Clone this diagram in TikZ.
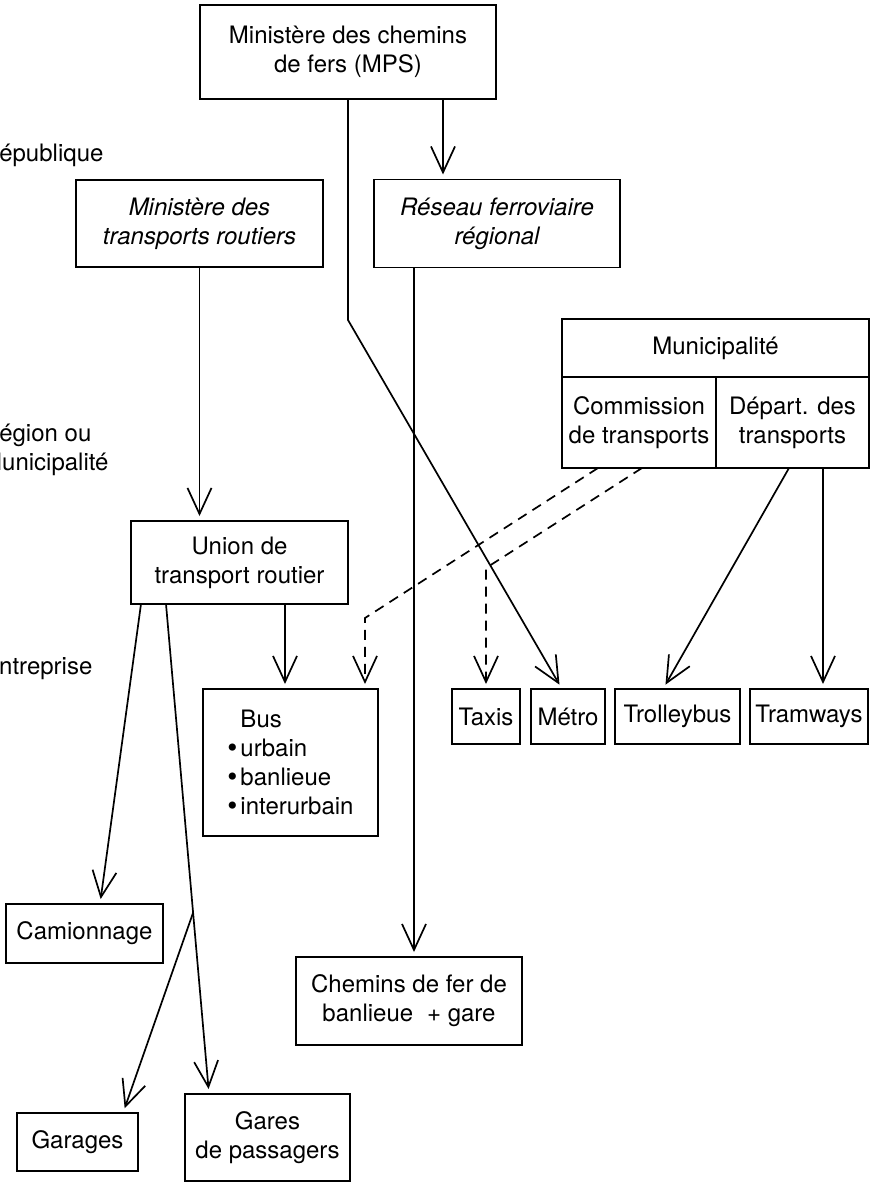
\documentclass[tikz,border=0pt]{standalone}
\usepackage{fontspec}
\setmainfont{TeX Gyre Heros}
\usetikzlibrary{positioning,calc,arrows.meta}

\newcommand{\diagfont}{\fontsize{24pt}{29pt}\selectfont}
\newcommand{\bul}{\makebox[13pt][l]{\raisebox{-0.5pt}{\scalebox{1.2}{•}}}}

\begin{document}
\begin{tikzpicture}[
    x=1pt, y=-1pt,
    every node/.style={font=\diagfont},
    box/.style={rectangle, draw=black, line width=1.9pt, inner sep=2pt, outer sep=0pt, align=center},
    rowbox/.style={box, minimum height=55pt},
    level/.style={inner sep=0pt, anchor=west, align=left},
    arrow/.style={-{Straight Barb[length=26pt, width=24pt]}, line width=1.7pt, shorten >=5pt},
    dashline/.style={arrow, dash pattern=on 10pt off 7pt}
]
\useasboundingbox (0,0) rectangle (878,1183);

% === LEVELS ===
\node[level] (repub) at (-18,155) {République};
\node[level] (region) at (-18,450) {Région ou\\Municipalité};
\node[level] (entre) at (-17,668) {Entreprise};

% === MINISTRIES ===
\node[box, minimum width=296pt, minimum height=94pt] (mps) at (348,52) {Ministère des chemins\\de fers (MPS)};
\node[box, minimum width=247pt, minimum height=87pt, font=\diagfont\itshape] (routiers) at (199.5,223.5) {Ministère des\\transports routiers};
\node[box, minimum width=246pt, minimum height=88pt, font=\diagfont\itshape, right=51pt of routiers] (reseau) {Réseau ferroviaire\\régional};

% === MUNICIPALITY ===
\node[box, minimum width=307pt, minimum height=58pt] (muni) at (715.5,348) {Municipalité};
\node[box, minimum width=154pt, minimum height=91pt, anchor=north west] (commission) at (muni.south west) {Commission\\de transports};
\node[box, minimum width=153pt, minimum height=91pt, right=0pt of commission] (depart) {Départ. des\\transports};

% === ROAD ===
\node[box, minimum width=217pt, minimum height=83pt] (union) at (239.5,562.5) {Union de\\transport routier};
\node[box, minimum width=175pt, minimum height=147pt, align=left] (bus) at (290.5,762.5) {\makebox[13pt]{}Bus\\\bul urbain\\\bul banlieue\\\bul interurbain};
\node[box, minimum width=157pt, minimum height=59pt] (camion) at (84.5,933.5) {Camionnage};
\node[box, minimum width=121pt, minimum height=58pt] (garages) at (77.5,1142) {Garages};
\node[box, minimum width=165pt, minimum height=87pt] (gares) at (267.5,1137.5) {Gares\\de passagers};

% === CITY TRANSPORT ===
\node[rowbox, minimum width=68pt] (taxis) at (486,716.5) {Taxis};
\node[rowbox, minimum width=74pt, right=11pt of taxis] (metro) {Métro};
\node[rowbox, minimum width=125pt, right=10pt of metro] (trolley) {Trolleybus};
\node[rowbox, minimum width=118pt, right=10pt of trolley] (tramways) {Tramways};

% === RAIL ===
\node[box, minimum width=226pt, minimum height=88pt] (chemins) at (409,1001) {Chemins de fer de\\banlieue\hspace{14pt}+ gare};

% === CONNECTIONS ===
% Rail flow
\draw[arrow] ([xshift=95pt]mps.south) -- ([xshift=95pt]mps.south |- reseau.north);
\coordinate[below=221pt of mps.south] (mpsbend);
\draw[arrow] (mps.south) -- (mpsbend) -- ([xshift=-6pt]metro.north);
\draw[arrow] ([xshift=-83pt]reseau.south) -- ([xshift=-83pt]reseau.south |- chemins.north);

% Road flow
\draw[arrow] (routiers.south) -- (routiers.south |- union.north);
\draw[arrow] ([xshift=45.5pt]union.south) -- ([xshift=45.5pt]union.south |- bus.north);
\draw[arrow] ([xshift=10pt]union.south west) -- ([xshift=15.5pt]camion.north);
\draw[arrow] ([xshift=35pt]union.south west) coordinate (gstart) -- ([xshift=24pt]gares.north west) coordinate (gend);
\draw[arrow] ($(gstart)!0.63!(gend)$) -- ([xshift=-15pt]garages.north east);

% Municipal flow
\draw[dashline] ([xshift=-41pt]commission.south) -- ([xshift=-13pt, yshift=71pt]bus.north east) -- ([xshift=-13pt]bus.north east);
\draw[dashline] ([xshift=3pt]commission.south) -- ([yshift=121pt]taxis.north) -- (taxis.north);
\draw[arrow] ([xshift=-3.5pt]depart.south) -- ([xshift=-14.5pt]trolley.north);
\draw[arrow] ([xshift=30.5pt]depart.south) -- ([xshift=30.5pt]depart.south |- tramways.north);

\end{tikzpicture}
\end{document}
